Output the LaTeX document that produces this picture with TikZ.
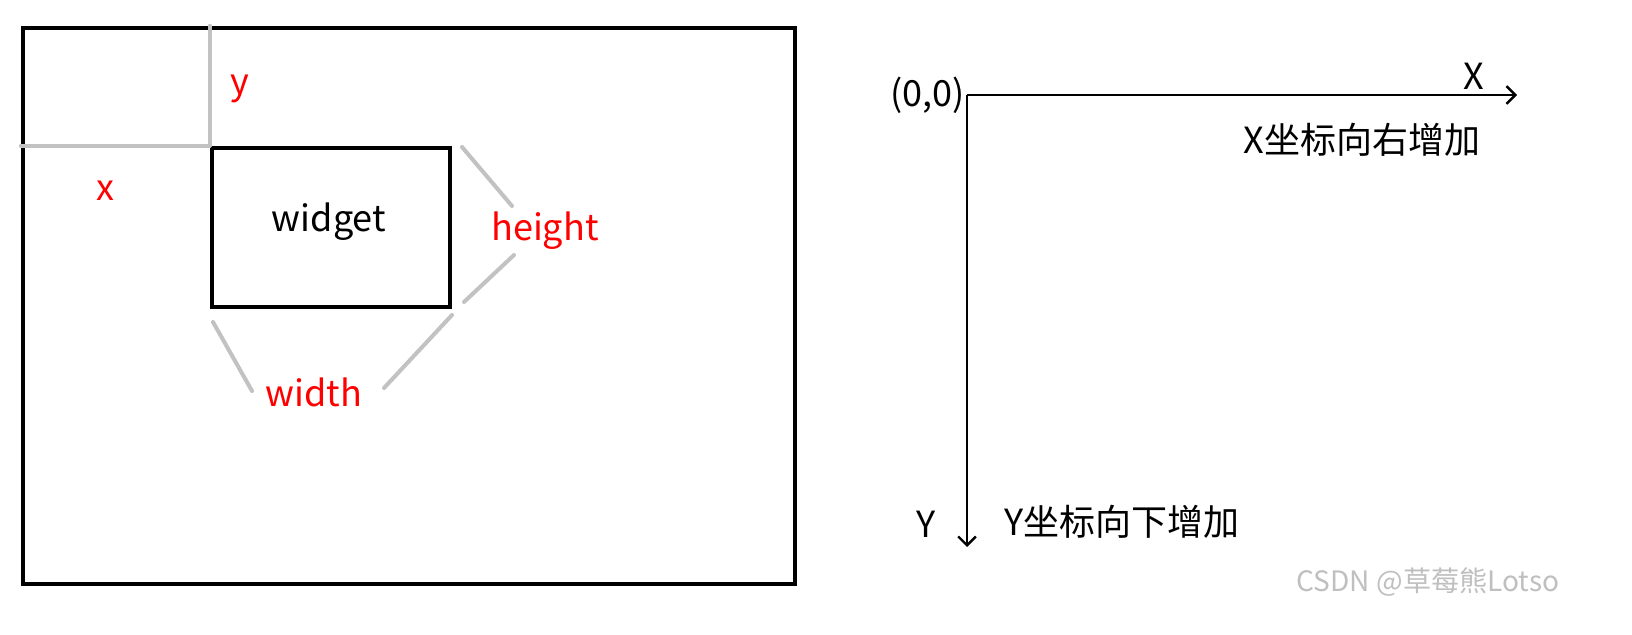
\documentclass[tikz,border=0pt]{standalone}
\usepackage{fontspec}
\setmainfont{Noto Sans CJK SC}
\usetikzlibrary{arrows.meta}
\begin{document}
\begin{tikzpicture}[x=0.02cm,y=-0.02cm,
    >={Straight Barb[length=5pt,width=10pt]},
    box/.style={draw,line width=2.6pt,inner sep=0pt},
    guide/.style={draw=black!24,line width=2.3pt,line cap=round},
    lbl/.style={text=red,font=\fontsize{20.5}{22}\selectfont},
    txt/.style={font=\fontsize{20.5}{22}\selectfont},
    axis/.style={line width=1.4pt}]
    \useasboundingbox (0,0) rectangle (1632,635);
    \node[box,minimum width=15.44cm,minimum height=11.12cm] (outer) at (409,306) {};
    \node[box,minimum width=4.76cm,minimum height=3.18cm] (widget) at (331,227.5) {};
    \node[txt] (wname) at (329,222) {widget};
    \node[lbl] (ly) at (240,89) {y};
    \node[lbl] (lx) at (105,191) {x};
    \node[lbl] (lh) at (545,231) {height};
    \node[lbl] (lw) at (314,392) {width};
    \draw[guide] (widget.north west |- outer.north) to (widget.north west);
    \draw[guide] (outer.west |- widget.north west) to (widget.north west);
    \draw[guide] (462,147) to (512,206);
    \draw[guide] (514,255) to (464,302);
    \draw[guide] (213,322) to (252,391);
    \draw[guide] (384,388) to (452,315);

    \coordinate (o) at (967,95);
    \coordinate (xend) at (1517,95);
    \coordinate (yend) at (967,547);
    \node[txt,anchor=east,inner sep=1pt] (origin) at (o) {(0,0)};
    \node[txt] (ax) at (1474,76) {X};
    \node[txt] (ay) at (926,524) {Y};
    \node[txt] (xinc) at (1362,140) {X坐标向右增加};
    \node[txt] (yinc) at (1122,522) {Y坐标向下增加};
    \draw[axis,->] (o) to (xend);
    \draw[axis,->] (o) to (yend);
    \node[text=black!25,font=\fontsize{16}{18}\selectfont] (mark) at (1428,582) {CSDN @草莓熊Lotso};
\end{tikzpicture}
\end{document}
